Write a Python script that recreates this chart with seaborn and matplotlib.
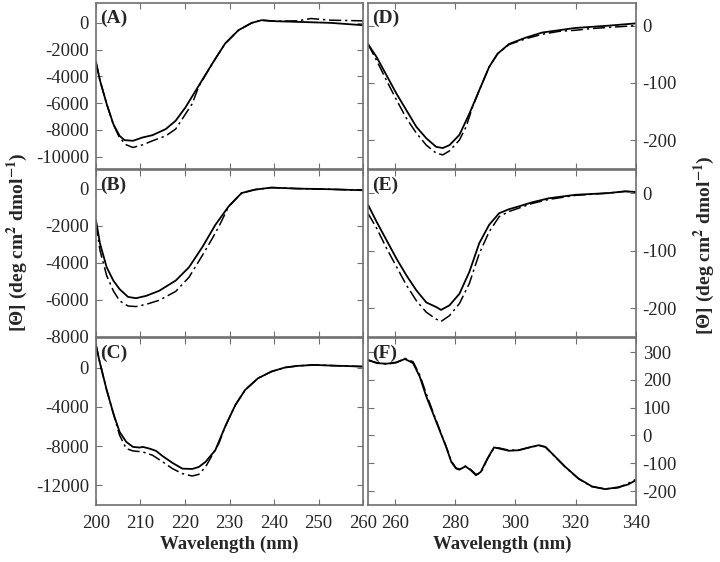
import numpy as np
import matplotlib
matplotlib.use("Agg")
import matplotlib.pyplot as plt
import seaborn as sns

# Far-UV panels (A-C): wavelength in nm, ellipticity
wl_a = [200, 200.9, 202.4, 203.9, 205.3, 206.4, 208.3, 210.5, 212.7, 215.7, 217.9, 220.1,
        223.1, 226.1, 229, 232, 235, 237.2, 240.1, 245.3, 252.7, 260]
a_solid = [-2930, -4310, -6060, -7570, -8450, -8770, -8820, -8570, -8400, -7940, -7320, -6320,
           -4690, -3060, -1550, -550, 0, 200, 125, 75, 0, -175]
wl_a2 = [200, 200.9, 202.4, 203.9, 205.3, 206.8, 208.3, 210.5, 212.7, 215.7, 217.9, 220.1,
         221.6, 223.1, 226.1, 229, 232, 235, 237.2, 240.1, 245.3, 248.3, 252.7, 260]
a_dash = [-2930, -4310, -6060, -7600, -8600, -9120, -9320, -9120, -8820, -8450, -7940, -6820,
          -6060, -4750, -3060, -1550, -550, 0, 200, 125, 150, 325, 200, 150]

wl_b = [200, 200.9, 202.4, 203.9, 205.3, 207.2, 209, 211.3, 214.2, 217.9, 220.9, 223.9,
        226.8, 229.8, 232.7, 235.7, 239.4, 245.3, 252.7, 260]
b_solid = [-1700, -2960, -4240, -4960, -5420, -5840, -5910, -5780, -5510, -4960, -4240, -3150,
           -1960, -960, -240, -55, 55, 0, -35, -90]
wl_b2 = [200, 200.9, 202.4, 203.9, 205.3, 207.2, 209, 211.3, 214.2, 217.9, 220.9, 223.9,
         226.1, 227.6, 229.8, 232.7, 235.7, 239.4, 245.3, 252.7, 260]
b_dash = [-1900, -3330, -4690, -5510, -6050, -6330, -6360, -6240, -6020, -5545, -4780, -3600,
          -2700, -2050, -960, -240, -55, 55, 0, -35, -90]

wl_c = [200, 200.9, 202.4, 203.9, 205.3, 206.8, 208.3, 209.8, 210.5, 212, 213.5, 215, 217.2,
        219.4, 221.6, 223.1, 224.6, 226.8, 229, 231.3, 233.5, 236.4, 239.4, 242.4, 245.3,
        249, 252.7, 260]
c_solid = [2215, 440, -2280, -4670, -6545, -7570, -8080, -8150, -8080, -8250, -8490, -9030,
           -9715, -10295, -10330, -10125, -9610, -8420, -6030, -3820, -2280, -1090, -410, 0,
           170, 270, 205, 100]
wl_c2 = [200, 200.9, 202.4, 203.9, 205.3, 206.8, 208.3, 210.5, 212.7, 215, 217.2, 219.4,
         221.6, 223.1, 224.6, 226.1, 227.6, 229, 231.3, 233.5, 236.4, 239.4, 242.4, 245.3,
         249, 252.7, 260]
c_dash = [2400, 440, -2280, -4670, -6890, -8250, -8490, -8590, -8930, -9610, -10300, -10800,
          -11045, -10880, -10130, -8930, -7740, -6030, -3820, -2280, -1090, -410, 0, 170,
          270, 205, 100]

# Near-UV panels (D-F)
wl_d = [251, 253.9, 257.2, 260.5, 263.8, 267.1, 270.4, 273.7, 275.9, 278.1, 281.4, 284.7,
        288, 291.3, 294.1, 297.9, 303.4, 308.9, 314.4, 319.9, 325.4, 330.9, 340]
d_solid = [-32, -55, -87, -119, -148, -177, -197, -212, -214, -209, -191, -154, -113, -72,
           -49, -32, -21, -12, -8, -4, -2, 0, 4]
wl_d2 = [251, 253.9, 257.2, 260.5, 263.8, 267.1, 270.4, 273.7, 275.9, 278.1, 281.4, 283.6,
         285.8, 288, 291.3, 294.1, 297.9, 303.4, 308.9, 314.4, 319.9, 325.4, 330.9, 340]
d_dash = [-32, -61, -96, -130, -162, -188, -209, -223, -226, -219, -200, -177, -142, -113,
          -72, -49, -33, -23, -15, -10, -8, -5, -3, 0]

wl_e = [251, 253.9, 257.2, 260.5, 263.8, 267.1, 270.4, 273.7, 275.3, 278.1, 281.4, 284.7,
        288, 291.3, 294.6, 297.9, 301.2, 305.6, 311.1, 319.9, 330.9, 336.4, 340]
e_solid = [-20, -50, -82, -114, -143, -169, -190, -198, -203, -195, -175, -137, -87, -55,
           -35, -28, -23, -16, -9, -3, 0, 3, 2]
e_dash = [-35, -61, -96, -128, -160, -187, -207, -219, -223, -213, -192, -157, -105, -67,
          -41, -32, -26, -18, -11, -4, 0, 3, 2]

wl_f = [251, 253.9, 257.2, 260.5, 263.3, 266, 268.2, 270.4, 272.6, 274.8, 277, 278.7, 280.3,
        281.4, 283.4, 285.2, 286.9, 288.5, 290.7, 292.9, 294.6, 297.9, 301.2, 304.5, 307.8,
        310, 313.3, 316.6, 321, 325.4, 329.8, 334.2, 337.5, 340]
f_solid = [272, 260, 258, 263, 275, 260, 212, 140, 80, 19, -41, -95, -119, -123, -111, -125,
           -143, -131, -83, -43, -47, -55, -53, -43, -35, -41, -77, -113, -155, -183, -193,
           -186, -176, -161]
f_dash = [270, 262, 256, 262, 277, 265, 218, 150, 85, 22, -40, -92, -117, -121, -110, -123,
          -140, -135, -85, -45, -45, -53, -52, -44, -36, -42, -78, -114, -156, -184, -192,
          -188, -172, -158]

sns.set_style("ticks")
plt.rcParams['font.family'] = ['Liberation Serif', 'DejaVu Serif']
plt.rcParams['mathtext.fontset'] = 'stix'

fig = plt.figure(figsize=(7.2, 5.62), dpi=100)
edge = '#707070'

panels = [
    # label, pos, x solid, y solid, x dash, y dash, xlim, ylim, yticks, side
    ('(A)', [0.1333, 0.700, 0.371, 0.295], wl_a, a_solid, wl_a2, a_dash,
     (200, 260), (-10900, 1500), [0, -2000, -4000, -6000, -8000, -10000], 'left'),
    ('(B)', [0.1333, 0.4004, 0.371, 0.297], wl_b, b_solid, wl_b2, b_dash,
     (200, 260), (-8000, 1000), [0, -2000, -4000, -6000, -8000], 'left'),
    ('(C)', [0.1333, 0.1014, 0.371, 0.297], wl_c, c_solid, wl_c2, c_dash,
     (200, 260), (-14000, 3000), [0, -4000, -8000, -12000], 'left'),
    ('(D)', [0.511, 0.700, 0.372, 0.295], wl_d, d_solid, wl_d2, d_dash,
     (251, 340), (-250, 40), [0, -100, -200], 'right'),
    ('(E)', [0.511, 0.4004, 0.372, 0.297], wl_e, e_solid, wl_e, e_dash,
     (251, 340), (-250, 40), [0, -100, -200], 'right'),
    ('(F)', [0.511, 0.1014, 0.372, 0.297], wl_f, f_solid, wl_f, f_dash,
     (251, 340), (-250, 350), [300, 200, 100, 0, -100, -200], 'right'),
]

for i, (lab, pos, xs, ys, xd, yd, xl, yl, yt, side) in enumerate(panels):
    ax = fig.add_axes(pos)
    sns.lineplot(x=xs, y=ys, ax=ax, color='black', linewidth=1.3, linestyle='-')
    sns.lineplot(x=xd, y=yd, ax=ax, color='black', linewidth=1.1)
    ax.lines[-1].set_dashes((8, 2.5, 1.5, 2.5))
    ax.set_xlim(*xl)
    ax.set_ylim(*yl)
    ax.set_yticks(yt)
    ax.set_yticklabels([str(v) for v in yt])
    if side == 'left':
        ax.set_xticks(range(200, 261, 10))
    else:
        ax.set_xticks(range(260, 341, 20))
    bottom_row = (i % 3 == 2)
    ax.tick_params(direction='in', top=True, bottom=True, left=True, right=True,
                   length=4, width=0.8, color=edge, labelsize=13.5,
                   labelbottom=bottom_row,
                   labelleft=(side == 'left'), labelright=(side == 'right'), pad=5)
    ax.tick_params(axis='x', pad=7)
    for sp in ax.spines.values():
        sp.set_visible(True)
        sp.set_color(edge)
        sp.set_linewidth(1.2)
    ax.set_xlabel('')
    ax.set_ylabel('')
    ax.text(0.015, 0.96, lab, transform=ax.transAxes, ha='left', va='top',
            fontsize=14, fontweight='bold')
    if bottom_row:
        ax.set_xlabel('Wavelength (nm)', fontsize=13.5, fontweight='bold', labelpad=3)

ylab = '[Θ] (deg cm$^\\mathbf{2}$ dmol$^\\mathbf{-1}$)'
fig.text(0.024, 0.57, ylab, rotation=90, ha='center', va='center',
         fontsize=14, fontweight='bold')
fig.text(0.979, 0.564, ylab, rotation=90, ha='center', va='center',
         fontsize=14, fontweight='bold')

fig.savefig('out.png', dpi=100)
